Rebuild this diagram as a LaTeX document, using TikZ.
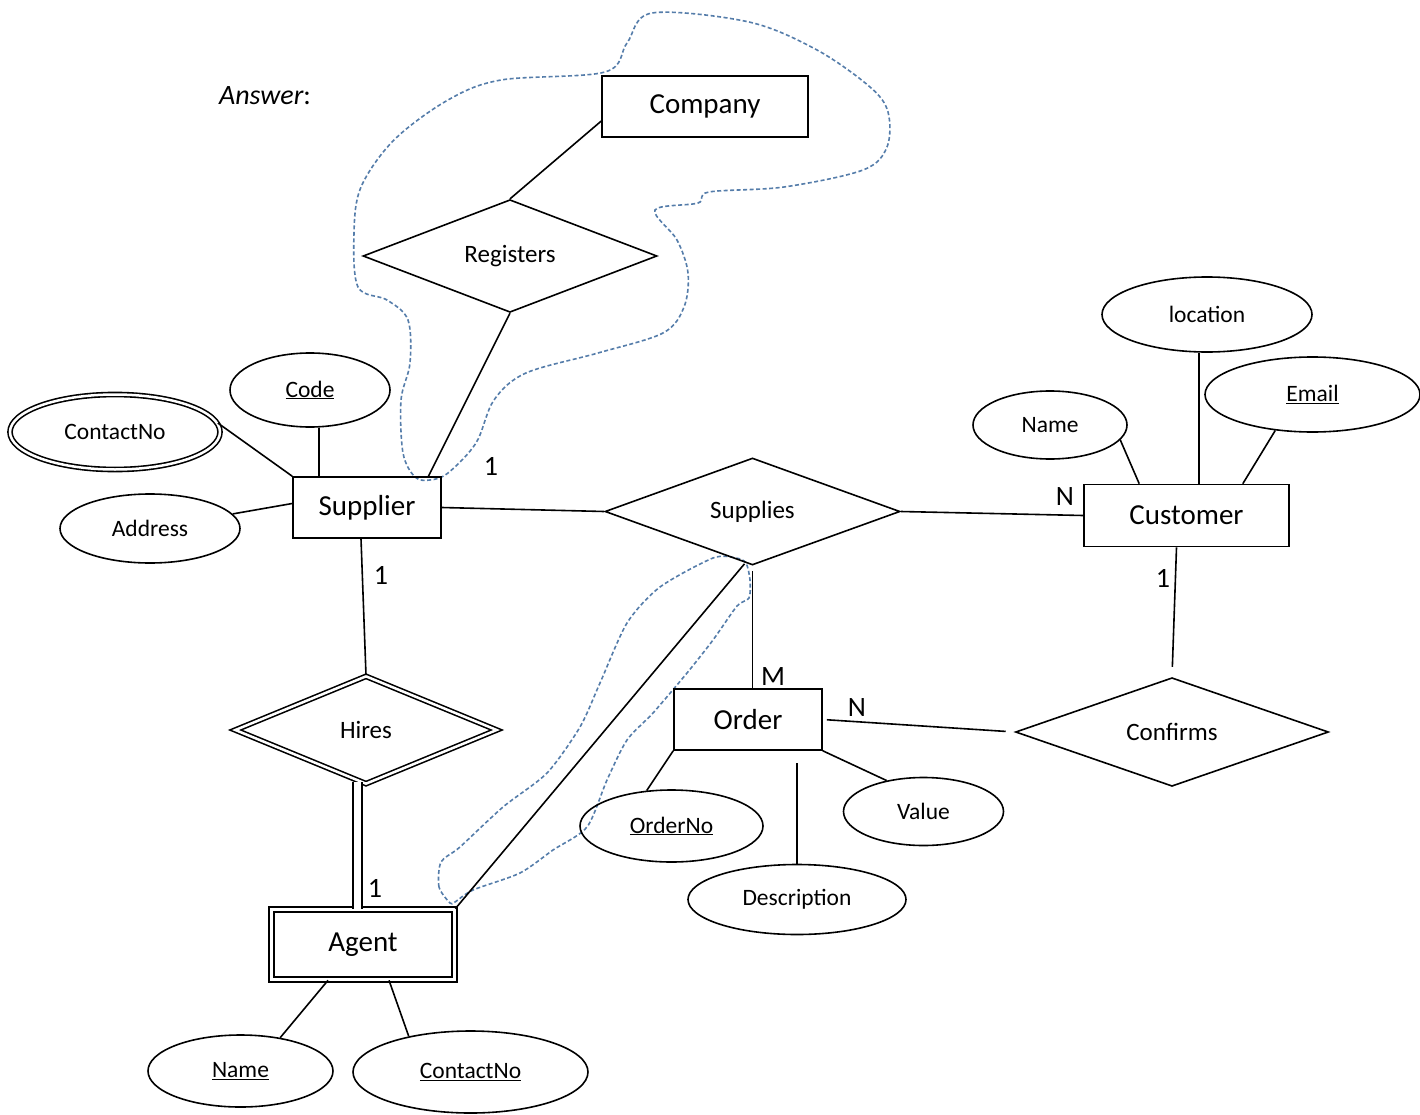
\documentclass[tikz,border=0pt]{standalone}
\usepackage{fontspec}
\setmainfont{Carlito}
\usetikzlibrary{shapes.geometric}
\definecolor{lasso}{RGB}{85,125,170}
\begin{document}
\begin{tikzpicture}[x=1pt,y=-1pt,line width=1.6pt]
\tikzset{
 base/.style={draw, line width=1.6pt, inner sep=0pt, align=center},
 entity/.style={base, rectangle, font=\fontsize{29}{31}\selectfont},
 rel/.style={base, diamond, font=\fontsize{25}{27}\selectfont},
 attr/.style={base, ellipse, font=\fontsize{23.5}{25}\selectfont},
 card/.style={font=\fontsize{28}{30}\selectfont, inner sep=0pt},
 lassoline/.style={draw=lasso, line width=1.6pt, dash pattern=on 4pt off 2.5pt},
}
\fill[white] (0,0) rectangle (1420,1115);
\useasboundingbox (0,0) rectangle (1420,1115);

% lasso outlines
\draw[lassoline] plot[smooth cycle, tension=0.55] coordinates {
 (652,13) (749,22) (817,50) (870,87) (888,112) (887,147) (863,170) (784,187)
 (709,192) (698,203) (655,210) (677,240) (688,273) (684,307) (663,333)
 (598,353) (526,373) (494,400) (476,443) (448,473) (430,480) (415,477)
 (403,453) (401,400) (410,363) (408,320) (387,300) (358,287) (354,233)
 (361,187) (394,140) (448,100) (501,80) (605,72) (627,43)};
\draw[lassoline] plot[smooth cycle, tension=0.45] coordinates {
 (450,903) (439,887) (441,862) (460,847) (503,807) (547,773) (580,727)
 (600,683) (627,623) (660,587) (713,558) (736,558) (746,563) (750,580)
 (749,598) (737,606) (713,640) (687,673) (653,713) (627,740) (607,780)
 (587,827) (553,850) (520,873) (473,890) (455,902)};

% nodes
\node[font=\fontsize{28}{30}\selectfont\itshape, inner sep=0pt] (answer) at (265,96) {Answer\upshape:};
\node[entity, minimum width=206pt, minimum height=61pt] (company) at (705,106.5) {Company};
\node[rel, minimum width=294pt, minimum height=110pt] (registers) at (510,256) {Registers};
\node[entity, minimum width=148pt, minimum height=61pt] (supplier) at (367,507.5) {Supplier};
\node[attr, minimum width=160pt, minimum height=74pt] (code) at (310,390) {\underline{Code}};
\node[attr, double, double distance=2.5pt, minimum width=210pt, minimum height=75pt] (scontact) at (115,432) {ContactNo};
\node[attr, minimum width=180pt, minimum height=69pt] (address) at (150,528.5) {Address};
\node[rel, minimum width=295pt, minimum height=107pt] (supplies) at (752.5,511.5) {Supplies};
\node[entity, minimum width=205pt, minimum height=62pt] (customer) at (1186.5,515.5) {Customer};
\node[attr, minimum width=210pt, minimum height=75pt] (location) at (1207,314.5) {location};
\node[attr, minimum width=215pt, minimum height=75pt] (email) at (1312.5,394.5) {\underline{Email}};
\node[attr, minimum width=154pt, minimum height=68pt] (cname) at (1050,425) {Name};
\node[rel, minimum width=313pt, minimum height=102pt] (confirms) at (1172,732) {Confirms};
\node[entity, minimum width=148pt, minimum height=61pt] (order) at (748,719.5) {Order};
\node[attr, minimum width=183pt, minimum height=72pt] (orderno) at (671.5,826) {\underline{OrderNo}};
\node[attr, minimum width=160pt, minimum height=68pt] (value) at (923.5,811.5) {Value};
\node[attr, minimum width=218pt, minimum height=70pt] (descr) at (797,899.5) {Description};
\node[rel, double, double distance=2.5pt, minimum width=262pt, minimum height=108pt] (hires) at (366,730) {Hires};
\node[entity, double, double distance=3pt, minimum width=183pt, minimum height=70pt] (agent) at (363,944.5) {Agent};
\node[attr, minimum width=185pt, minimum height=72pt] (aname) at (240.5,1071) {\underline{Name}};
\node[attr, minimum width=235pt, minimum height=82pt] (acontact) at (470.5,1072) {\underline{ContactNo}};

% connectors
\draw (company.188) -- (registers.north);
\draw (registers.south) -- (supplier.27);
\draw (scontact.5) -- (supplier.north west);
\draw ([xshift=9pt]code.south) -- ([xshift=9pt]code.south |- supplier.north);
\draw (address.10) -- ([yshift=4pt]supplier.west);
\draw (supplier.east) -- (supplies.west);
\draw (supplies.east) -- (customer.west);
\draw (cname.-12) -- ([xshift=56pt]customer.north west);
\draw ([xshift=-8pt]location.south) -- ([xshift=-8pt]location.south |- customer.north);
\draw (email.-136) -- ([xshift=-47pt]customer.north east);
\draw[shorten >=10pt] ([xshift=-10pt]customer.south) -- (confirms.north);
\draw[shorten <=4pt, shorten >=9pt] (order.east) -- (confirms.west);
\draw[shorten <=5pt] (supplies.south) -- (supplies.south |- order.north);
\draw ([xshift=-8pt,yshift=2pt]supplies.south) -- (agent.north east);
\draw (orderno.125) -- (order.south west);
\draw (value.140) -- (order.south east);
\draw (descr.north) -- ([yshift=-12pt]descr.north |- order.south);
\draw ([xshift=-6pt]supplier.south) -- (hires.north);
\draw[double, double distance=7.5pt, shorten <=-3pt] ([xshift=-8.5pt]hires.south) -- ([xshift=-8.5pt]hires.south |- agent.north);
\draw (aname.40) -- ([xshift=-35pt]agent.south);
\draw (acontact.150) -- ([xshift=26pt]agent.south);

% cardinalities
\node[card] (c1) at (491,466) {1};
\node[card] (c2) at (1065,497) {N};
\node[card] (c3) at (381,575) {1};
\node[card] (c4) at (375,888) {1};
\node[card] (c5) at (773,677) {M};
\node[card] (c6) at (857,708) {N};
\node[card] (c7) at (1163,578) {1};
\end{tikzpicture}
\end{document}
